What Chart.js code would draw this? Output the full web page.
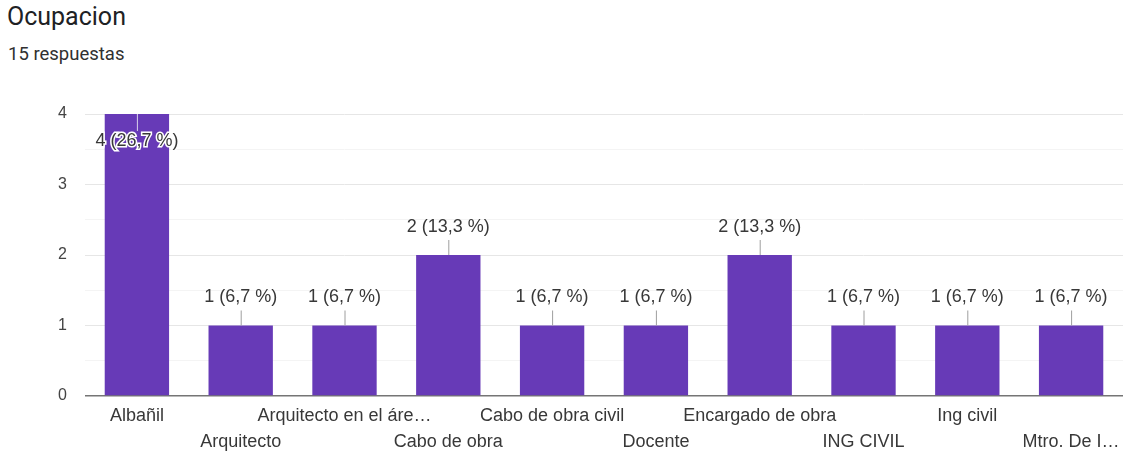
<!DOCTYPE html>
<html>
<head>
<meta charset="utf-8">
<script src="https://cdn.jsdelivr.net/npm/chart.js@4"></script>
<style>
  body { margin: 0; background: #fff; font-family: Roboto, Arial, sans-serif; }
  #wrap { position: relative; width: 1123px; height: 455px; }
  #titulo { position: absolute; left: 7px; top: 2px; font-size: 25px; color: #202124; }
  #sub { position: absolute; left: 8px; top: 43px; font-size: 18.5px; color: #303030; }
  canvas { position: absolute; left: 0; top: 0; }
</style>
</head>
<body>
<div id="wrap">
  <div id="titulo">Ocupacion</div>
  <div id="sub">15 respuestas</div>
  <canvas id="chart" width="1123" height="455"></canvas>
</div>
<script>
const categorias = ['Albañil', 'Arquitecto', 'Arquitecto en el áre…', 'Cabo de obra', 'Cabo de obra civil',
  'Docente', 'Encargado de obra', 'ING CIVIL', 'Ing civil', 'Mtro. De I…'];
const respuestas = [4, 1, 1, 2, 1, 1, 2, 1, 1, 1];
const totalRespuestas = 15;
const ticksY = [0, 1, 2, 3, 4];
const FUENTE = 'Arial, "Liberation Sans", sans-serif';

// etiqueta "n (xx,x %)"
function etiqueta(v) {
  return v + ' (' + (v / totalRespuestas * 100).toFixed(1).replace('.', ',') + ' %)';
}

const etiquetasPlugin = {
  id: 'etiquetas',
  afterDatasetsDraw(chart) {
    const ctx = chart.ctx;
    const meta = chart.getDatasetMeta(0);
    const area = chart.chartArea;
    ctx.save();
    ctx.font = '18px ' + FUENTE;
    ctx.textAlign = 'center';
    ctx.textBaseline = 'middle';
    meta.data.forEach((bar, i) => {
      const texto = etiqueta(respuestas[i]);
      let ty = bar.y - 28;
      let dentro = false;
      if (ty < area.top + 5) { ty = bar.y + 27; dentro = true; }
      // linea guia
      ctx.strokeStyle = dentro ? '#d8d0ea' : '#9e9e9e';
      ctx.lineWidth = 1;
      ctx.beginPath();
      if (dentro) { ctx.moveTo(bar.x + 0.5, bar.y); ctx.lineTo(bar.x + 0.5, ty - 10); }
      else { ctx.moveTo(bar.x + 0.5, bar.y); ctx.lineTo(bar.x + 0.5, ty + 13); }
      ctx.stroke();
      if (dentro) {
        ctx.strokeStyle = '#ffffff';
        ctx.lineWidth = 3;
        ctx.strokeText(texto, bar.x, ty);
      }
      ctx.fillStyle = '#383838';
      ctx.fillText(texto, bar.x, ty);
    });
    ctx.restore();
  }
};

new Chart(document.getElementById('chart').getContext('2d'), {
  type: 'bar',
  data: {
    labels: categorias,
    datasets: [{
      data: respuestas,
      backgroundColor: '#673ab7',
      borderWidth: 0,
      categoryPercentage: 1,
      barPercentage: 0.62
    }]
  },
  options: {
    responsive: false,
    animation: false,
    layout: { padding: { top: 114, left: 0, right: 0, bottom: 0 } },
    plugins: { legend: { display: false }, tooltip: { enabled: false } },
    scales: {
      x: {
        grid: { display: false, drawTicks: false },
        border: { display: false },
        afterFit(scale) {
          scale.height = 59;
          scale.paddingLeft = 0;
          scale.paddingRight = 0;
        },
        ticks: {
          autoSkip: false,
          maxRotation: 0,
          padding: 7,
          color: '#383838',
          font: { family: FUENTE, size: 18, lineHeight: 1.44 },
          callback(value, index) {
            const l = categorias[index];
            return index % 2 === 0 ? [l] : ['', l];
          }
        }
      },
      y: {
        min: 0,
        max: 4,
        afterFit(scale) { scale.width = 85; },
        // lineas menores cada 0,5 sin texto
        afterBuildTicks(scale) {
          const t = [];
          ticksY.forEach((v, i) => {
            t.push({ value: v });
            if (i < ticksY.length - 1) t.push({ value: v + 0.5 });
          });
          scale.ticks = t;
        },
        border: { display: false },
        grid: {
          drawTicks: false,
          color: c => c.tick.value === 0 ? '#757575' : (Number.isInteger(c.tick.value) ? '#e6e6e6' : '#f4f4f4'),
          lineWidth: c => c.tick.value === 0 ? 1.5 : 1
        },
        ticks: {
          padding: 18,
          color: '#444444',
          font: { family: FUENTE, size: 16 },
          callback: v => Number.isInteger(v) ? v : ''
        }
      }
    }
  },
  plugins: [etiquetasPlugin]
});
</script>
</body>
</html>
